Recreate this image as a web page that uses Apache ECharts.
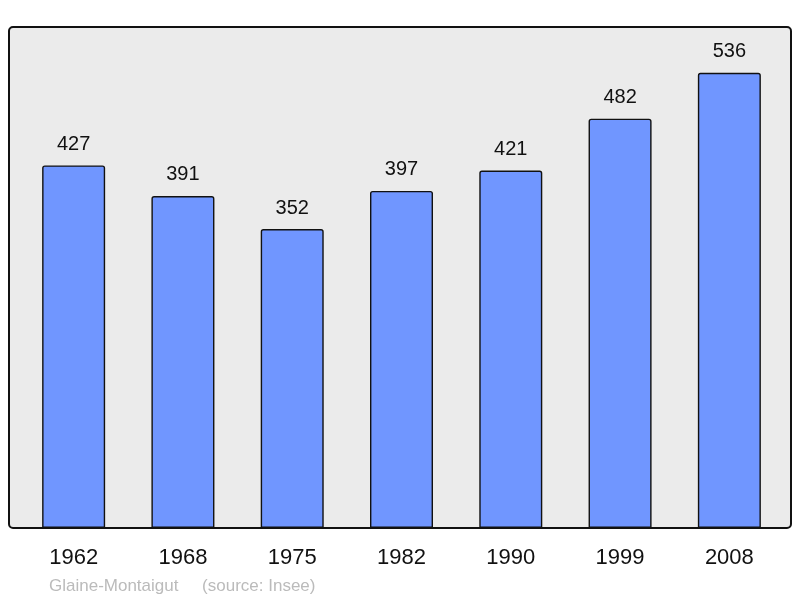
<!DOCTYPE html>
<html>
<head>
<meta charset="utf-8">
<script src="https://cdn.jsdelivr.net/npm/echarts@6/dist/echarts.min.js"></script>
<style>
  html, body { margin: 0; padding: 0; background: #fff; }
  #chart { width: 800px; height: 598px; }
</style>
</head>
<body>
<div id="chart"></div>
<script>
// population by census year
var years = ["1962", "1968", "1975", "1982", "1990", "1999", "2008"];
var population = [427, 391, 352, 397, 421, 482, 536];
var commune = "Glaine-Montaigut";
var source = "(source: Insee)";

var myChart = echarts.init(document.getElementById("chart"));
myChart.setOption({
  animation: false,
  textStyle: { fontFamily: "Liberation Sans, Arial, sans-serif" },
  graphic: [
    {
      // grey panel behind the bars
      type: "rect",
      z: -10,
      shape: { x: 9, y: 27, width: 782, height: 501, r: 4 },
      style: { fill: "#ebebeb", stroke: "#111", lineWidth: 2 }
    },
    {
      type: "text",
      left: 49,
      top: 578,
      style: {
        text: commune + "     " + source,
        fill: "#bbbbbb",
        font: "17px Liberation Sans, Arial, sans-serif"
      }
    }
  ],
  grid: {
    left: 19,
    right: 16,
    top: 27,
    bottom: 70
  },
  xAxis: {
    type: "category",
    data: years,
    axisLine: { show: false },
    axisTick: { show: false },
    axisLabel: {
      color: "#111",
      fontSize: 22,
      margin: 19
    }
  },
  yAxis: {
    type: "value",
    min: 0,
    max: 590,
    show: false,
    splitLine: { show: false }
  },
  series: [
    {
      type: "bar",
      data: population,
      barWidth: 63,
      itemStyle: {
        color: "#7096ff",
        borderColor: "#111",
        borderWidth: 1.4,
        borderRadius: [2, 2, 0, 0]
      },
      label: {
        show: true,
        position: "top",
        distance: 11,
        color: "#111",
        fontSize: 20
      }
    }
  ]
});
</script>
</body>
</html>
